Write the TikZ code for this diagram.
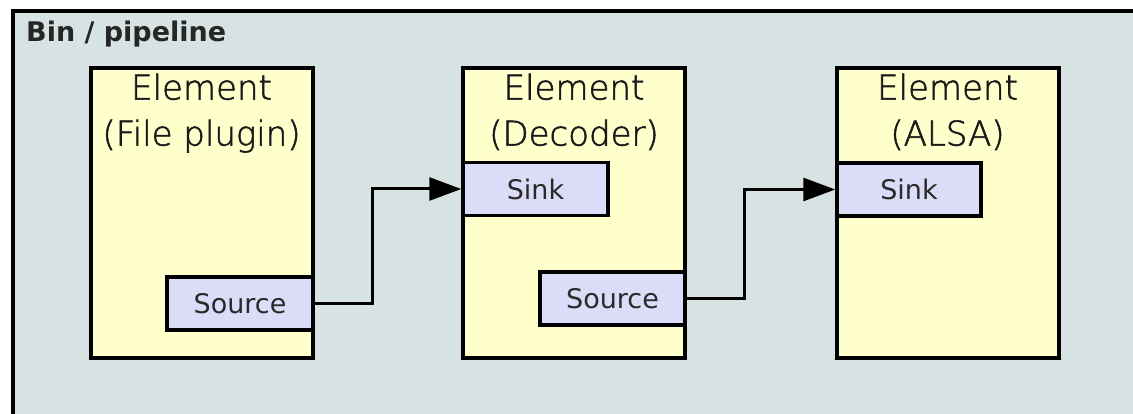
\documentclass[tikz,border=0pt]{standalone}
\usepackage{fontspec}
\setmainfont{DejaVu Sans}
\newfontfamily\lightfont[FakeBold=1.6]{DejaVu Sans ExtraLight}
\usetikzlibrary{arrows.meta,positioning}
\definecolor{binbg}{HTML}{D7E3E3}
\definecolor{elemfill}{HTML}{FFFFCC}
\definecolor{padfill}{HTML}{DCDCF8}
\definecolor{txt}{HTML}{2A2A2A}
\begin{document}
\begin{tikzpicture}[x=1pt,y=-1pt,
  elem/.style={draw,line width=4pt,fill=elemfill,minimum width=222pt,minimum height=289pt,inner sep=0pt},
  elemtext/.style={inner sep=0pt,align=center,text=black!90,font=\lightfont\fontsize{34}{46}\selectfont},
  pad/.style={draw,line width=3.5pt,fill=padfill,minimum height=53pt,inner sep=0pt,text=txt,font=\fontsize{27}{30}\selectfont},
  link/.style={line width=3pt,-{Triangle[length=32pt,width=23pt]}}]
  \useasboundingbox (0,0) rectangle (1133,414);
  \fill[white] (0,0) rectangle (1133,414);
  \fill[binbg] (13,11) rectangle (1133,414);
  \draw[line width=4pt] (13,414)--(13,11)--(1133,11);
  \node[anchor=west,inner sep=0pt,text=black!85,font=\bfseries\fontsize{27}{30}\selectfont] (title) at (26,34) {Bin / pipeline};

  \node[elem] (file) at (201.5,213) {};
  \node[elem] (dec) at (574,213) {};
  \node[elem] (alsa) at (947.5,213) {};
  \node[elemtext,below=7pt of file.north] (filetxt) {Element\\(File plugin)};
  \node[elemtext,below=7pt of dec.north] (dectxt) {Element\\(Decoder)};
  \node[elemtext,below=7pt of alsa.north] (alsatxt) {Element\\(ALSA)};

  \node[pad,minimum width=146pt] (filesrc) at (240,303.5) {Source};
  \node[pad,minimum width=145pt] (decsink) at (535.5,189) {Sink};
  \node[pad,minimum width=145pt] (decsrc) at (612.5,298.5) {Source};
  \node[pad,minimum width=144pt] (alsasink) at (909,189.5) {Sink};

  \draw[link] (filesrc.east) -- ++(58,0) |- (decsink.west);
  \draw[link] (decsrc.east) -- ++(58,0) |- (alsasink.west);
\end{tikzpicture}
\end{document}
